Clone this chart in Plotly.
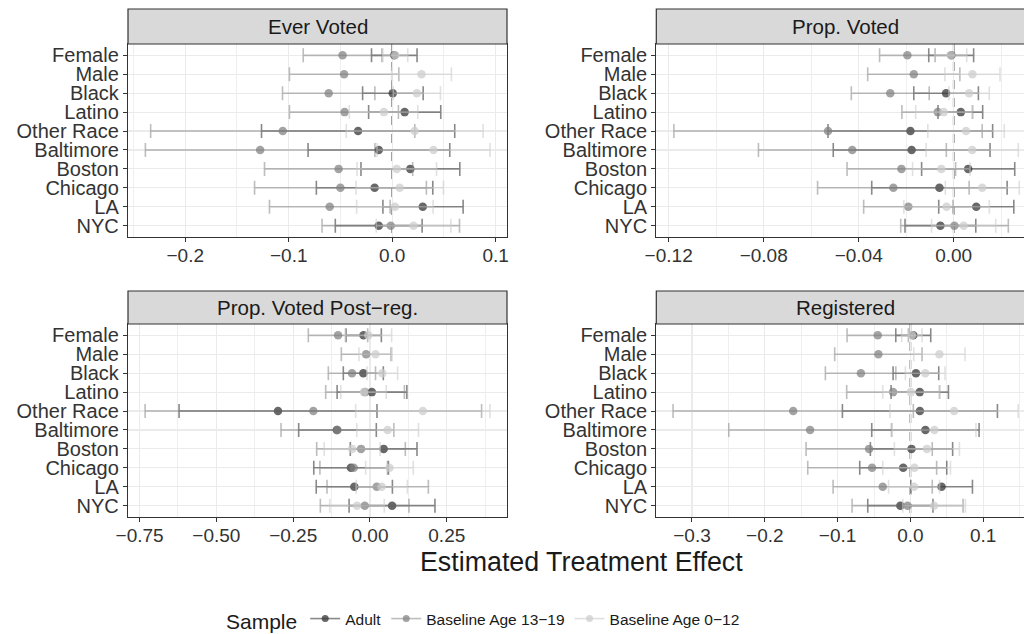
import plotly.graph_objects as go

CATEGORIES = ["Female", "Male", "Black", "Latino", "Other Race",
              "Baltimore", "Boston", "Chicago", "LA", "NYC"]
PANEL_TITLES = ["Ever Voted", "Prop. Voted", "Prop. Voted Post\u2212reg.", "Registered"]
SAMPLES = ["Adult", "Baseline Age 13\u221219", "Baseline Age 0\u221212"]

# ---- Ever Voted ----
EV_ADULT_EST = [0.002, None, 0.0005, 0.012, -0.033, -0.013, 0.0175, -0.017, 0.0295, -0.013]
EV_ADULT_LO = [-0.020, None, -0.0286, -0.0228, -0.1263, -0.0813, -0.0302, -0.0733, -0.009, -0.055]
EV_ADULT_HI = [0.024, None, 0.0299, 0.0469, 0.0604, 0.0556, 0.0653, 0.0392, 0.0685, 0.0289]
EV_TEEN_EST = [-0.048, -0.0465, -0.0614, -0.046, -0.1058, -0.1276, -0.0518, -0.0501, -0.0604, -0.0014]
EV_TEEN_LO = [-0.086, -0.0993, -0.106, -0.0993, -0.2334, -0.2385, -0.1234, -0.133, -0.1186, -0.0678]
EV_TEEN_HI = [-0.010, 0.0064, -0.0168, 0.006, 0.0218, -0.0167, 0.0198, 0.033, -0.002, 0.065]
EV_CHILD_EST = [0.003, 0.0283, 0.0238, -0.008, 0.0217, 0.0399, 0.0044, 0.0072, 0.0026, 0.0206]
EV_CHILD_LO = [-0.009, -0.0006, 0.001, -0.0415, -0.0444, -0.0147, -0.034, -0.035, -0.0344, -0.0154]
EV_CHILD_HI = [0.015, 0.0572, 0.0466, 0.0247, 0.0878, 0.0945, 0.0428, 0.0495, 0.0395, 0.0566]

# ---- Prop. Voted ----
PV_ADULT_EST = [-0.001, None, -0.0032, 0.003, -0.0182, -0.0177, 0.0061, -0.006, 0.0095, -0.0056]
PV_ADULT_LO = [-0.0105, None, -0.0168, -0.0066, -0.0529, -0.0507, -0.0135, -0.0345, -0.0063, -0.0205]
PV_ADULT_HI = [0.0084, None, 0.0104, 0.0122, 0.0164, 0.0153, 0.0257, 0.0225, 0.0253, 0.0093]
PV_TEEN_EST = [-0.0195, -0.0168, -0.0267, -0.0067, -0.0529, -0.0427, -0.022, -0.0254, -0.0191, 0.0003]
PV_TEEN_LO = [-0.0312, -0.0362, -0.0431, -0.0218, -0.1178, -0.0822, -0.0449, -0.0573, -0.0379, -0.0223]
PV_TEEN_HI = [-0.0078, 0.0026, -0.0103, 0.008, 0.012, -0.0031, 0.0008, 0.0065, -0.0003, 0.023]
PV_CHILD_EST = [-0.0012, 0.0079, 0.0065, -0.0042, 0.0052, 0.0078, -0.0052, 0.012, -0.003, 0.0042]
PV_CHILD_LO = [-0.008, -0.0037, -0.002, -0.016, -0.0109, -0.0116, -0.0173, -0.0035, -0.021, -0.0093]
PV_CHILD_HI = [0.0055, 0.0195, 0.015, 0.0077, 0.0213, 0.0272, 0.0069, 0.0276, 0.015, 0.0177]

# ---- Prop. Voted Post-reg. ----
PR_ADULT_EST = [-0.021, None, -0.0217, 0.006, -0.2994, -0.108, 0.0445, -0.062, -0.051, 0.072]
PR_ADULT_LO = [-0.078, None, -0.0868, -0.107, -0.6215, -0.2321, -0.064, -0.183, -0.175, -0.068]
PR_ADULT_HI = [0.037, None, 0.0434, 0.12, 0.0228, 0.0206, 0.153, 0.06, 0.073, 0.2115]
PR_TEEN_EST = [-0.104, -0.0125, -0.0586, -0.0163, -0.1844, -0.106, -0.029, -0.053, 0.022, -0.017]
PR_TEEN_LO = [-0.2007, -0.0933, -0.1356, -0.1442, -0.732, -0.2896, -0.1735, -0.163, -0.14, -0.1616]
PR_TEEN_HI = [-0.0076, 0.0683, 0.018, 0.112, 0.3633, 0.0776, 0.115, 0.057, 0.19, 0.127]
PR_CHILD_EST = [-0.0054, 0.018, 0.04, -0.02, 0.172, 0.0575, -0.058, 0.0635, 0.038, -0.042]
PR_CHILD_LO = [-0.081, -0.036, -0.01, -0.095, -0.0466, -0.043, -0.149, -0.014, -0.045, -0.131]
PR_CHILD_HI = [0.0705, 0.072, 0.09, 0.053, 0.3905, 0.158, 0.033, 0.141, 0.1215, 0.0466]

# ---- Registered ----
RG_ADULT_EST = [0.0039, None, 0.0076, 0.0128, 0.013, 0.0206, 0.0015, -0.0099, 0.0428, -0.0138]
RG_ADULT_LO = [-0.0201, None, -0.0238, -0.0266, -0.0934, -0.0531, -0.055, -0.0696, 0.0005, -0.0586]
RG_ADULT_HI = [0.0279, None, 0.0389, 0.0522, 0.1195, 0.0943, 0.058, 0.0499, 0.0852, 0.031]
RG_TEEN_EST = [-0.0449, -0.044, -0.068, -0.0238, -0.161, -0.1378, -0.0568, -0.0527, -0.038, -0.0039]
RG_TEEN_LO = [-0.087, -0.104, -0.1168, -0.0875, -0.326, -0.2495, -0.1433, -0.141, -0.1062, -0.0801]
RG_TEEN_HI = [-0.0028, 0.016, -0.02, 0.04, 0.004, -0.026, 0.03, 0.036, 0.03, 0.0723]
RG_CHILD_EST = [0.002, 0.0398, 0.0204, 0.0005, 0.06, 0.033, 0.0227, 0.0055, 0.005, 0.0325]
RG_CHILD_LO = [-0.012, 0.0046, -0.0069, -0.038, -0.028, -0.025, -0.022, -0.038, -0.03, -0.0105]
RG_CHILD_HI = [0.016, 0.075, 0.0476, 0.04, 0.148, 0.09, 0.0673, 0.055, 0.04, 0.0755]

PANEL_DATA = [
    [(EV_ADULT_EST, EV_ADULT_LO, EV_ADULT_HI), (EV_TEEN_EST, EV_TEEN_LO, EV_TEEN_HI), (EV_CHILD_EST, EV_CHILD_LO, EV_CHILD_HI)],
    [(PV_ADULT_EST, PV_ADULT_LO, PV_ADULT_HI), (PV_TEEN_EST, PV_TEEN_LO, PV_TEEN_HI), (PV_CHILD_EST, PV_CHILD_LO, PV_CHILD_HI)],
    [(PR_ADULT_EST, PR_ADULT_LO, PR_ADULT_HI), (PR_TEEN_EST, PR_TEEN_LO, PR_TEEN_HI), (PR_CHILD_EST, PR_CHILD_LO, PR_CHILD_HI)],
    [(RG_ADULT_EST, RG_ADULT_LO, RG_ADULT_HI), (RG_TEEN_EST, RG_TEEN_LO, RG_TEEN_HI), (RG_CHILD_EST, RG_CHILD_LO, RG_CHILD_HI)],
]

# ---- styling ----
W, H = 1024, 634
FONT = "Liberation Sans, Arial, Helvetica, sans-serif"
MARKER_COLORS = ["rgba(51,51,51,0.74)", "rgba(128,128,128,0.72)", "rgba(204,204,204,0.72)"]
BAR_COLORS = ["rgba(51,51,51,0.58)", "rgba(128,128,128,0.52)", "rgba(204,204,204,0.58)"]
LEGEND_LINE = ["rgba(51,51,51,0.58)", "rgba(128,128,128,0.52)", "rgba(204,204,204,0.6)"]

# panel geometry in pixels: (left, right, strip_top, plot_top, plot_bottom)
PANEL_BOX = [
    (128, 507, 9, 44, 237),
    (656.3, 1024, 9, 44, 237),
    (128, 507, 291, 324, 517),
    (656.3, 1024, 291, 324, 517),
]
STRIP_CENTER = [317.5, 845.8, 317.5, 845.8]
X_RANGES = [[-0.2553, 0.1109], [-0.1252, 0.0296], [-0.7877, 0.446], [-0.349, 0.156]]
X_DTICK = [0.1, 0.04, 0.25, 0.1]
X_FMT = [".1f", ".2f", ".2f", ".1f"]
RIGHT_SIDE = [False, True, False, True]
Y_RANGE = [len(CATEGORIES) - 0.4, -0.6]


def px_x(p):
    return p / W


def px_y(p):
    return 1 - p / H


fig = go.Figure()
layout = dict(
    template="none",
    width=W, height=H, autosize=False,
    margin=dict(l=0, r=0, t=0, b=0, pad=0, autoexpand=False),
    paper_bgcolor="white", plot_bgcolor="white",
    font=dict(family=FONT, color="#1a1a1a"),
    showlegend=True,
)
shapes = []
annotations = []

for i in range(4):
    n = "" if i == 0 else str(i + 1)
    xa, ya = "x" + n, "y" + n
    left, right, stop, ptop, pbot = PANEL_BOX[i]
    for s in range(3):
        est, lo, hi = PANEL_DATA[i][s]
        plus = [None if e is None else h - e for e, h in zip(est, hi)]
        minus = [None if e is None else e - l for e, l in zip(est, lo)]
        fig.add_trace(go.Scatter(
            x=est, y=CATEGORIES, mode="markers",
            marker=dict(color=MARKER_COLORS[s], size=8.5, line=dict(width=0)),
            error_x=dict(type="data", symmetric=False, array=plus, arrayminus=minus,
                         color=BAR_COLORS[s], thickness=1.6, width=7),
            xaxis=xa, yaxis=ya, showlegend=False, hoverinfo="skip",
        ))
    layout["xaxis" + n] = dict(
        domain=[px_x(left), px_x(right)], anchor=ya, range=X_RANGES[i], automargin=False,
        tick0=0, dtick=X_DTICK[i], tickformat=X_FMT[i],
        showgrid=True, gridcolor="#ebebeb", gridwidth=1.1,
        minor=dict(showgrid=True, dtick=X_DTICK[i] / 2, gridcolor="#ebebeb", gridwidth=0.8),
        zeroline=False, showline=True, mirror=True, linecolor="#333333", linewidth=1.2,
        ticks="outside", ticklen=4, tickcolor="#333333", tickwidth=1,
        ticklabelstandoff=-3,
        tickfont=dict(size=19, color="#333333", family=FONT),
        fixedrange=True,
    )
    layout["yaxis" + n] = dict(
        domain=[px_y(pbot), px_y(ptop)], anchor=xa, automargin=False,
        type="category", categoryorder="array", categoryarray=CATEGORIES,
        tickmode="array", tickvals=CATEGORIES, ticktext=CATEGORIES,
        range=Y_RANGE,
        showgrid=True, gridcolor="#ebebeb", gridwidth=1.1, zeroline=False,
        showline=True, mirror=not RIGHT_SIDE[i], linecolor="#333333", linewidth=1.2,
        ticks="outside", ticklen=4, tickcolor="#333333", tickwidth=1,
        tickfont=dict(size=20, color="#333333", family=FONT),
        fixedrange=True,
    )
    # dashed zero reference line
    shapes.append(dict(type="line", xref=xa, yref=ya, x0=0, x1=0,
                       y0=Y_RANGE[1], y1=Y_RANGE[0],
                       line=dict(color="#5e5e5e", width=1.6, dash="dash"), layer="below"))
    # strip
    shapes.append(dict(type="rect", xref="paper", yref="paper",
                       x0=px_x(left), x1=px_x(right) + (0.02 if RIGHT_SIDE[i] else 0),
                       y0=px_y(ptop), y1=px_y(stop),
                       fillcolor="#d9d9d9", line=dict(color="#333333", width=1.2), layer="above"))
    annotations.append(dict(text=PANEL_TITLES[i], xref="paper", yref="paper",
                            x=px_x(STRIP_CENTER[i]), y=px_y((stop + ptop) / 2),
                            xanchor="center", yanchor="middle", showarrow=False,
                            font=dict(size=20.5, color="#1a1a1a", family=FONT)))

# legend-only traces (line + point key)
for s in range(3):
    fig.add_trace(go.Scatter(
        x=[None], y=[None], mode="lines+markers", name=SAMPLES[s],
        line=dict(color=LEGEND_LINE[s], width=1.6),
        marker=dict(color=MARKER_COLORS[s], size=7),
        xaxis="x", yaxis="y", hoverinfo="skip",
    ))

annotations.append(dict(text="Estimated Treatment Effect", xref="paper", yref="paper",
                        x=px_x(581.5), y=px_y(562), xanchor="center", yanchor="middle",
                        showarrow=False, font=dict(size=26.8, color="#1a1a1a", family=FONT)))

layout["shapes"] = shapes
layout["annotations"] = annotations
layout["legend"] = dict(
    orientation="h", x=px_x(224), xanchor="left", y=px_y(621), yanchor="middle",
    title=dict(text="Sample", side="left", font=dict(size=21, color="#1a1a1a", family=FONT)),
    font=dict(size=15.5, color="#1a1a1a", family=FONT),
    itemwidth=30, bgcolor="rgba(0,0,0,0)", borderwidth=0, tracegroupgap=0,
)
fig.update_layout(**layout)
fig.write_html("out.html", config={"displayModeBar": False, "staticPlot": True},
               post_script="document.body.style.margin='0px';document.body.style.overflow='hidden';")
